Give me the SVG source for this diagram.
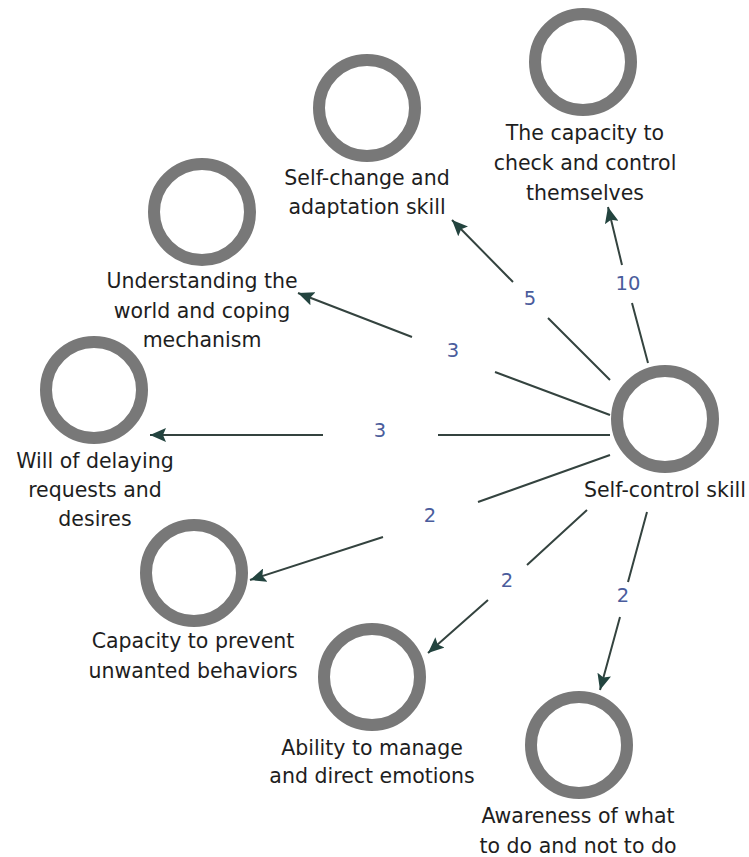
<svg xmlns="http://www.w3.org/2000/svg" width="749" height="857" viewBox="0 0 749 857">
<defs>
<marker id="arr" markerUnits="userSpaceOnUse" markerWidth="17" markerHeight="14" refX="16" refY="7" orient="auto">
<path d="M0,0 L16,7 L0,14 L3,7 z" fill="#23443f"/>
</marker>
<style>
.node circle{fill:#fff;stroke:#787878;stroke-width:12}
.node text{font-family:"DejaVu Sans",Verdana,sans-serif;font-size:20.5px;fill:#1e1e1e;text-anchor:middle}
.edge{fill:none;stroke:#34433f;stroke-width:2;marker-end:url(#arr)}
.lbl{font-family:"DejaVu Sans",Verdana,sans-serif;font-size:19.5px;fill:#4a5c9c;text-anchor:middle}
</style>
</defs>
<rect width="749" height="857" fill="#fff"/>
<g id="connectors">
<path class="edge" d="M648,363 L632,303 M622,265 L608,207"/>
<path class="edge" d="M610,380 L548,318 M513,282 L452,220"/>
<path class="edge" d="M610,415 L495,372 M412,337 L298,293"/>
<path class="edge" d="M610,435 L438,435 M323,435 L150,435"/>
<path class="edge" d="M610,455 L478,502 M383,537 L250,580"/>
<path class="edge" d="M587,510 L527,565 M488,600 L428,653"/>
<path class="edge" d="M647,512 L628,582 M620,617 L600,690"/>
<text class="lbl" x="628" y="290">10</text>
<text class="lbl" x="530" y="305">5</text>
<text class="lbl" x="453" y="357">3</text>
<text class="lbl" x="380" y="437">3</text>
<text class="lbl" x="430" y="522">2</text>
<text class="lbl" x="507" y="587">2</text>
<text class="lbl" x="623" y="602">2</text>
</g>
<g id="n-self-control" class="node">
<circle cx="665" cy="419" r="48"/>
<text x="665" y="497">Self-control skill</text>
</g>
<g id="n-capacity-check" class="node">
<circle cx="583" cy="62" r="48"/>
<text x="585" y="140">The capacity to</text>
<text x="585" y="170">check and control</text>
<text x="585" y="200">themselves</text>
</g>
<g id="n-self-change" class="node">
<circle cx="367" cy="108" r="48"/>
<text x="367" y="185">Self-change and</text>
<text x="367" y="214">adaptation skill</text>
</g>
<g id="n-understanding" class="node">
<circle cx="202" cy="212" r="48"/>
<text x="202" y="288">Understanding the</text>
<text x="202" y="318">world and coping</text>
<text x="202" y="347">mechanism</text>
</g>
<g id="n-will" class="node">
<circle cx="94" cy="390" r="48"/>
<text x="95" y="468">Will of delaying</text>
<text x="95" y="497">requests and</text>
<text x="95" y="526">desires</text>
</g>
<g id="n-capacity-prevent" class="node">
<circle cx="194" cy="573" r="48"/>
<text x="193" y="648">Capacity to prevent</text>
<text x="193" y="678">unwanted behaviors</text>
</g>
<g id="n-ability" class="node">
<circle cx="372" cy="677" r="48"/>
<text x="372" y="755">Ability to manage</text>
<text x="372" y="783">and direct emotions</text>
</g>
<g id="n-awareness" class="node">
<circle cx="579" cy="745" r="48"/>
<text x="578" y="823">Awareness of what</text>
<text x="578" y="853">to do and not to do</text>
</g>
</svg>
